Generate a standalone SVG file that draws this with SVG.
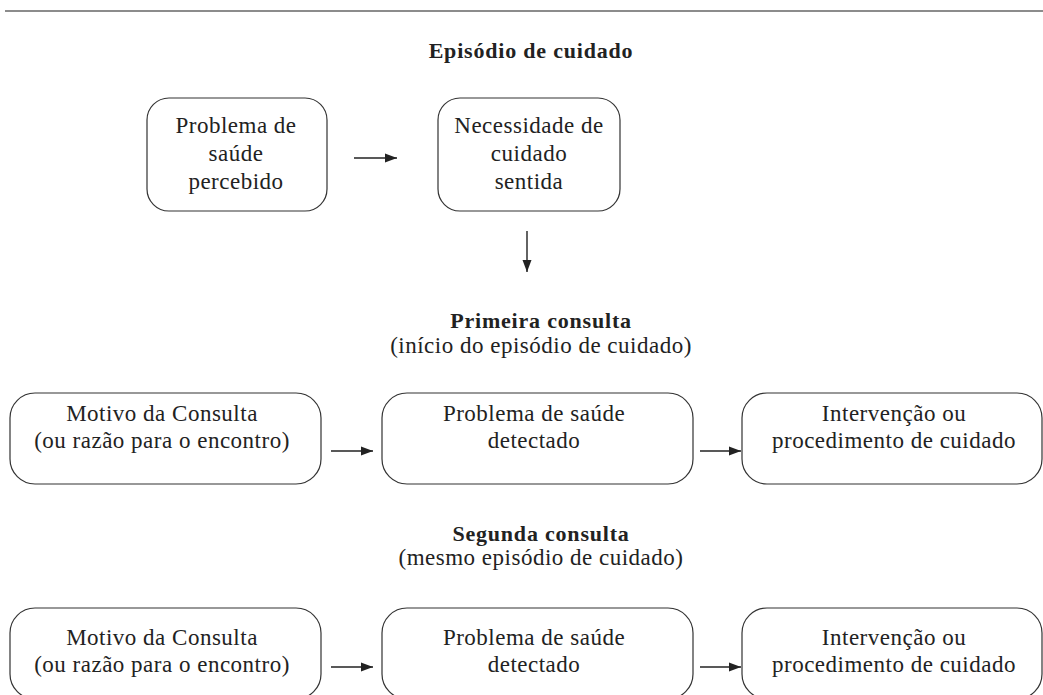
<svg xmlns="http://www.w3.org/2000/svg" width="1043" height="695" viewBox="0 0 1043 695">
<style>
.box{fill:#fff;stroke:#333;stroke-width:1.2}
.t{font-family:"Liberation Serif","Times New Roman",serif;font-size:23px;fill:#222;text-anchor:middle;letter-spacing:0.5px}
.b{font-weight:bold;font-size:22px;letter-spacing:0.8px}
.c{stroke:#222;stroke-width:1.4;fill:none;marker-end:url(#ah)}
</style>
<defs>
<marker id="ah" viewBox="0 0 12 10" refX="12" refY="5" markerWidth="12" markerHeight="10" markerUnits="userSpaceOnUse" orient="auto">
<path d="M0,0.5 L12,5 L0,9.5 Z" fill="#222"/>
</marker>
</defs>
<rect width="1043" height="695" fill="#fff"/>
<line x1="5" y1="11" x2="1043" y2="11" stroke="#666" stroke-width="1.5"/>

<g id="title1"><text class="t b" x="531" y="58">Episódio de cuidado</text></g>

<g id="n1"><rect class="box" x="147" y="98" width="180" height="113" rx="22"/>
<text class="t" x="236" y="133">Problema de</text><text class="t" x="236" y="161">saúde</text><text class="t" x="236" y="189">percebido</text></g>
<g id="n2"><rect class="box" x="438" y="98" width="182" height="113" rx="22"/>
<text class="t" x="529" y="133">Necessidade de</text><text class="t" x="529" y="161">cuidado</text><text class="t" x="529" y="189">sentida</text></g>

<g id="title2"><text class="t b" x="541" y="328">Primeira consulta</text><text class="t" x="541" y="353">(início do episódio de cuidado)</text></g>

<g id="n3"><rect class="box" x="10" y="393" width="311" height="91" rx="25"/>
<text class="t" x="162" y="421">Motivo da Consulta</text><text class="t" x="162" y="448">(ou razão para o encontro)</text></g>
<g id="n4"><rect class="box" x="382" y="393" width="311" height="91" rx="25"/>
<text class="t" x="534" y="421">Problema de saúde</text><text class="t" x="534" y="448">detectado</text></g>
<g id="n5"><rect class="box" x="742" y="393" width="300" height="91" rx="25"/>
<text class="t" x="894" y="421">Intervenção ou</text><text class="t" x="894" y="448">procedimento de cuidado</text></g>

<g id="title3"><text class="t b" x="541" y="541">Segunda consulta</text><text class="t" x="541" y="565">(mesmo episódio de cuidado)</text></g>

<g id="n6"><rect class="box" x="10" y="608" width="311" height="91" rx="25"/>
<text class="t" x="162" y="645">Motivo da Consulta</text><text class="t" x="162" y="672">(ou razão para o encontro)</text></g>
<g id="n7"><rect class="box" x="382" y="608" width="311" height="91" rx="25"/>
<text class="t" x="534" y="645">Problema de saúde</text><text class="t" x="534" y="672">detectado</text></g>
<g id="n8"><rect class="box" x="742" y="608" width="300" height="91" rx="25"/>
<text class="t" x="894" y="645">Intervenção ou</text><text class="t" x="894" y="672">procedimento de cuidado</text></g>

<g id="connectors">
<line class="c" x1="354" y1="158" x2="397" y2="158"/>
<line class="c" x1="527" y1="231" x2="527" y2="272"/>
<line class="c" x1="331" y1="451" x2="373" y2="451"/>
<line class="c" x1="700" y1="451" x2="741" y2="451"/>
<line class="c" x1="331" y1="667" x2="373" y2="667"/>
<line class="c" x1="700" y1="667" x2="741" y2="667"/>
</g>
</svg>
